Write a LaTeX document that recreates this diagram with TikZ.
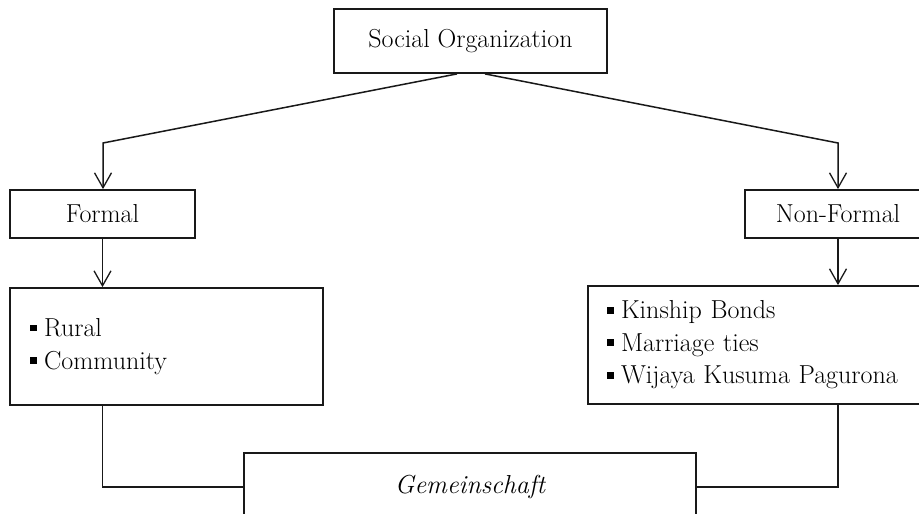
\documentclass[tikz,border=0pt]{standalone}
\usetikzlibrary{arrows.meta,calc}
\begin{document}
\begin{tikzpicture}[x=1pt,y=-1pt,
  box/.style={draw=black!90,line width=1.8pt,rectangle,inner sep=0pt,font=\fontsize{26}{32.5}\selectfont},
  listbox/.style={box,align=left},
  conn/.style={line width=1.5pt,draw=black!90},
  arr/.style={conn,-{Straight Barb[length=15pt,width=17pt,line width=1.3pt]}}]
\newcommand{\sqbullet}{\raisebox{0.2em}{\rule{0.26em}{0.26em}}\hspace{0.28em}}
\useasboundingbox (0,0) rectangle (919,514);
\clip (0,0) rectangle (919,514);
\fill[white] (0,0) rectangle (919,514);

\node[box,minimum width=273pt,minimum height=64pt] (so) at (470.5,41) {Social Organization};
\node[box,minimum width=185pt,minimum height=48pt] (formal) at (102.5,214) {Formal};
\node[box,minimum width=186pt,minimum height=48pt] (nonformal) at (838,214) {Non-Formal};
\node[listbox,text width=273pt,inner xsep=20pt,minimum height=117pt] (rural) at (166.5,346.5)
  {\sqbullet Rural\\ \sqbullet Community};
\node[listbox,text width=314pt,inner xsep=19pt,minimum height=118pt] (kin) at (764,345)
  {\sqbullet Kinship Bonds\\ \sqbullet Marriage ties\\ \sqbullet Wijaya Kusuma Pagurona};
\node[box,minimum width=452pt,minimum height=68pt] (gem) at (470,487) {\itshape Gemeinschaft};

\coordinate (bendL) at (103,143);
\coordinate (bendR) at (838,143);
\draw[arr] ($(so.south)+(-13.5,0)$) -- (bendL) -- (bendL |- formal.north);
\draw[arr] ($(so.south)+(14.5,0)$) -- (bendR) -- (nonformal.north);
\draw[arr] (formal.south) -- (formal.south |- rural.north);
\draw[arr] (nonformal.south) -- (nonformal.south |- kin.north);
\draw[conn] (formal.south |- rural.south) |- (gem.west);
\draw[conn] (nonformal.south |- kin.south) |- (gem.east);
\end{tikzpicture}
\end{document}
